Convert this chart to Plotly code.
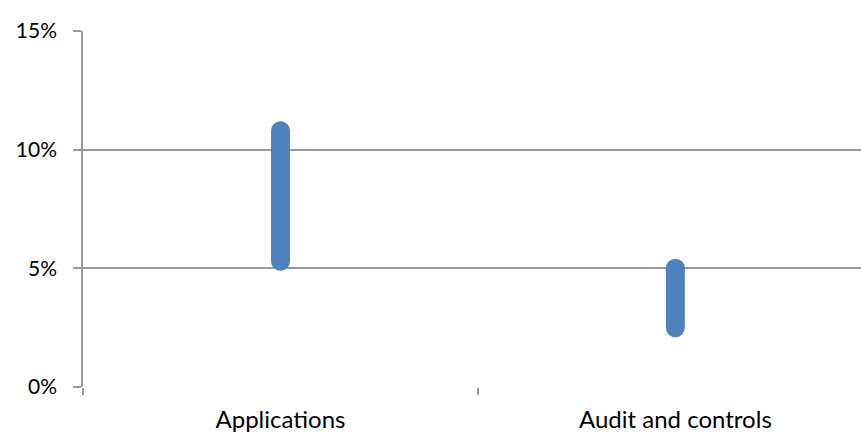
import plotly.graph_objects as go

# Range of each category (low / high share)
categories = ["Applications", "Audit and controls"]
low_values = [5.3, 2.5]
high_values = [10.8, 5.0]
y_ticks = [0, 5, 10, 15]
y_tick_labels = ["0%", "5%", "10%", "15%"]

bar_color = "#4F81BD"
axis_color = "#9A9A9A"
family = "Lato, Calibri, sans-serif"

fig = go.Figure()
for cat, lo, hi in zip(categories, low_values, high_values):
    fig.add_trace(go.Scatter(
        x=[cat, cat], y=[lo, hi],
        mode="lines+markers",
        line=dict(color=bar_color, width=19),
        marker=dict(color=bar_color, size=19, line=dict(width=0)),
        showlegend=False, hoverinfo="skip",
    ))

fig.update_layout(
    width=861, height=434,
    margin=dict(l=83, r=0, t=31, b=47),
    paper_bgcolor="white", plot_bgcolor="white",
    font=dict(family=family, color="#000000"),
)
fig.update_xaxes(
    type="category", categoryorder="array", categoryarray=categories,
    range=[-0.5, 1.47],
    tickson="boundaries", ticks="outside", ticklen=7, tickcolor=axis_color,
    tickwidth=1.5,
    tickfont=dict(family=family, size=24, color="#000000"),
    showgrid=False, showline=False, zeroline=False,
    ticklabelstandoff=16,
)
fig.update_yaxes(
    range=[0, 15], tickvals=y_ticks, ticktext=y_tick_labels,
    ticks="outside", ticklen=8, tickcolor=axis_color, tickwidth=1.5,
    tickfont=dict(family=family, size=21, color="#000000"),
    showgrid=True, gridcolor=axis_color, gridwidth=1.5,
    showline=True, linecolor=axis_color, linewidth=1.5,
    zeroline=False, ticklabelstandoff=12,
)

fig.write_html("out.html")
